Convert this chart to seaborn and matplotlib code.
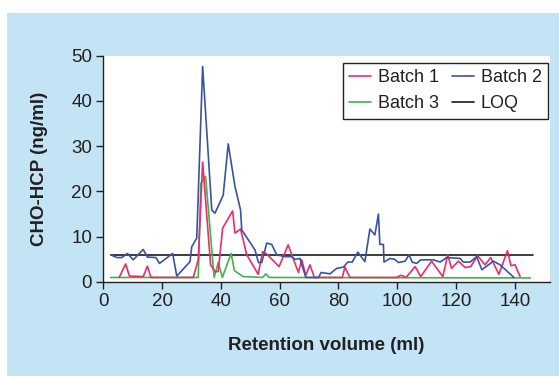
import matplotlib
matplotlib.use('Agg')
import matplotlib.pyplot as plt
import matplotlib.patches as mpatches
import seaborn as sns
import pandas as pd

# Batch 1 (pink)
b1_x = [5.4, 7.6, 8.9, 13.6, 15.0, 16.2, 30.6, 32.3, 33.8, 36.5, 38.0, 39.1, 40.6, 44.0, 44.8,
        46.7, 48.8, 52.7, 54.2, 55.6, 59.8, 62.9, 64.7, 66.4, 67.5, 68.9, 70.3, 71.8, 81.3, 82.2,
        83.9, 99.8, 101.3, 103.0, 106.1, 108.0, 111.7, 115.5, 117.2, 118.5, 120.8, 123.1, 125.0,
        127.3, 129.9, 131.8, 134.6, 137.5, 138.7, 140.1, 141.8]
b1_y = [1.0, 4.0, 1.3, 1.2, 3.5, 1.0, 1.0, 4.9, 26.5, 3.8, 2.3, 2.3, 11.9, 15.7, 10.8,
        11.7, 6.0, 1.7, 6.7, 6.2, 3.4, 8.2, 5.0, 2.1, 4.9, 1.5, 3.8, 1.0, 1.0, 3.3,
        1.0, 1.0, 1.5, 1.0, 3.4, 1.2, 4.6, 1.2, 6.0, 3.0, 4.6, 3.2, 3.4,
        5.8, 3.8, 5.4, 1.7, 6.9, 3.6, 3.8, 1.2]

# Batch 2 (blue)
b2_x = [2.5, 4.6, 6.3, 8.2, 10.2, 13.6, 15.0, 17.9, 19.1, 23.6, 25.0, 29.5, 30.1, 31.8, 33.8,
        36.9, 38.0, 40.8, 42.5, 44.8, 46.7, 47.1, 51.6, 52.8, 53.9, 55.6, 57.3, 59.0, 61.8, 64.1,
        65.2, 66.9, 68.9, 73.2, 74.1, 77.1, 79.4, 81.7, 83.2, 84.7, 86.6, 89.0, 90.7, 92.4, 93.6,
        94.1, 95.3, 95.5, 97.5, 99.2, 100.4, 102.7, 104.0, 105.1, 106.6, 108.0, 112.3, 114.6,
        116.8, 121.4, 122.5, 124.8, 127.0, 128.8, 132.7, 135.0, 139.7]
b2_y = [6.0, 5.4, 5.4, 6.3, 4.9, 7.2, 5.5, 5.4, 4.1, 6.3, 1.3, 4.5, 7.8, 9.7, 47.6,
        15.9, 15.2, 19.2, 30.5, 21.1, 15.9, 11.5, 7.1, 4.3, 4.3, 8.6, 8.3, 6.0, 5.6, 5.6,
        5.0, 5.2, 1.0, 1.0, 2.1, 1.8, 3.0, 3.3, 4.4, 4.4, 6.6, 4.5, 11.7, 10.4, 15.0,
        8.3, 8.3, 4.4, 5.2, 5.0, 4.3, 4.6, 6.0, 4.4, 4.1, 4.9, 4.9, 4.4,
        5.4, 5.2, 4.4, 4.4, 5.6, 2.7, 4.6, 3.8, 1.0]

# Batch 3 (green)
b3_x = [2.5, 32.3, 33.2, 34.8, 37.7, 39.1, 40.5, 43.5, 44.6, 47.6, 54.2, 55.3, 56.4, 145.3]
b3_y = [1.0, 1.0, 21.8, 23.3, 1.0, 4.3, 1.0, 6.3, 2.5, 1.2, 1.0, 1.8, 1.0, 0.9]

# limit of quantitation
loq_x = [2.5, 146.3]
loq_y = [6.0, 6.0]

colors = {'Batch 1': '#ec2b67', 'Batch 2': '#3953a4', 'Batch 3': '#3cb54a', 'LOQ': '#1a1a1a'}

frames = []
for name, xs, ys in [('Batch 1', b1_x, b1_y), ('Batch 2', b2_x, b2_y),
                     ('Batch 3', b3_x, b3_y), ('LOQ', loq_x, loq_y)]:
    frames.append(pd.DataFrame({'vol': xs, 'hcp': ys, 'serie': name}))
dados = pd.concat(frames, ignore_index=True)

sns.set_theme(style='white')
plt.rcParams['font.family'] = ['Liberation Sans', 'DejaVu Sans']

fig = plt.figure(figsize=(5.59, 3.76), dpi=100)
fig.patch.set_facecolor('white')
# light blue panel behind everything
fig.add_artist(mpatches.Rectangle((7 / 559, 0), 552 / 559, 363 / 376,
                                  transform=fig.transFigure, facecolor='#c3e4f5',
                                  edgecolor='none', zorder=-10))

ax = fig.add_axes([0.1848, 0.25, 0.7992, 0.602])
ax.set_facecolor('white')

# LOQ drawn first, then batches on top
for name in ['LOQ', 'Batch 3', 'Batch 1', 'Batch 2']:
    sub = dados[dados['serie'] == name]
    sns.lineplot(data=sub, x='vol', y='hcp', color=colors[name], lw=1.2,
                 sort=False, estimator=None, label=name, ax=ax)

ax.set_xlim(0, 152)
ax.set_ylim(0, 50)
ax.set_xticks([0, 20, 40, 60, 80, 100, 120, 140])
ax.set_yticks([0, 10, 20, 30, 40, 50])

for s in ['top', 'right']:
    ax.spines[s].set_visible(False)
for s in ['left', 'bottom']:
    ax.spines[s].set_color('#222222')
    ax.spines[s].set_linewidth(1.0)

ax.tick_params(axis='both', direction='out', length=5, width=1.0, color='#222222',
               labelsize=13.5, labelcolor='#231f20', pad=3, left=True, bottom=True)

ax.set_xlabel('Retention volume (ml)', fontsize=13.5, fontweight='bold', color='#231f20', labelpad=19)
ax.set_ylabel('CHO-HCP (ng/ml)', fontsize=13.5, fontweight='bold', color='#231f20', labelpad=17)

handles, labels = ax.get_legend_handles_labels()
lookup = dict(zip(labels, handles))
order = ['Batch 1', 'Batch 3', 'Batch 2', 'LOQ']
leg = ax.legend([lookup[k] for k in order], order, ncol=2, loc='upper right',
                bbox_to_anchor=(0.9955, 0.968), fontsize=13, frameon=True, fancybox=False,
                edgecolor='#222222', framealpha=1, handlelength=1.2, handletextpad=0.4,
                columnspacing=0.7, labelspacing=0.5, borderpad=0.35, borderaxespad=0)
leg.get_frame().set_linewidth(1.0)
for t in leg.get_texts():
    t.set_color('#231f20')

plt.savefig('out.png', dpi=100, facecolor=fig.get_facecolor())
